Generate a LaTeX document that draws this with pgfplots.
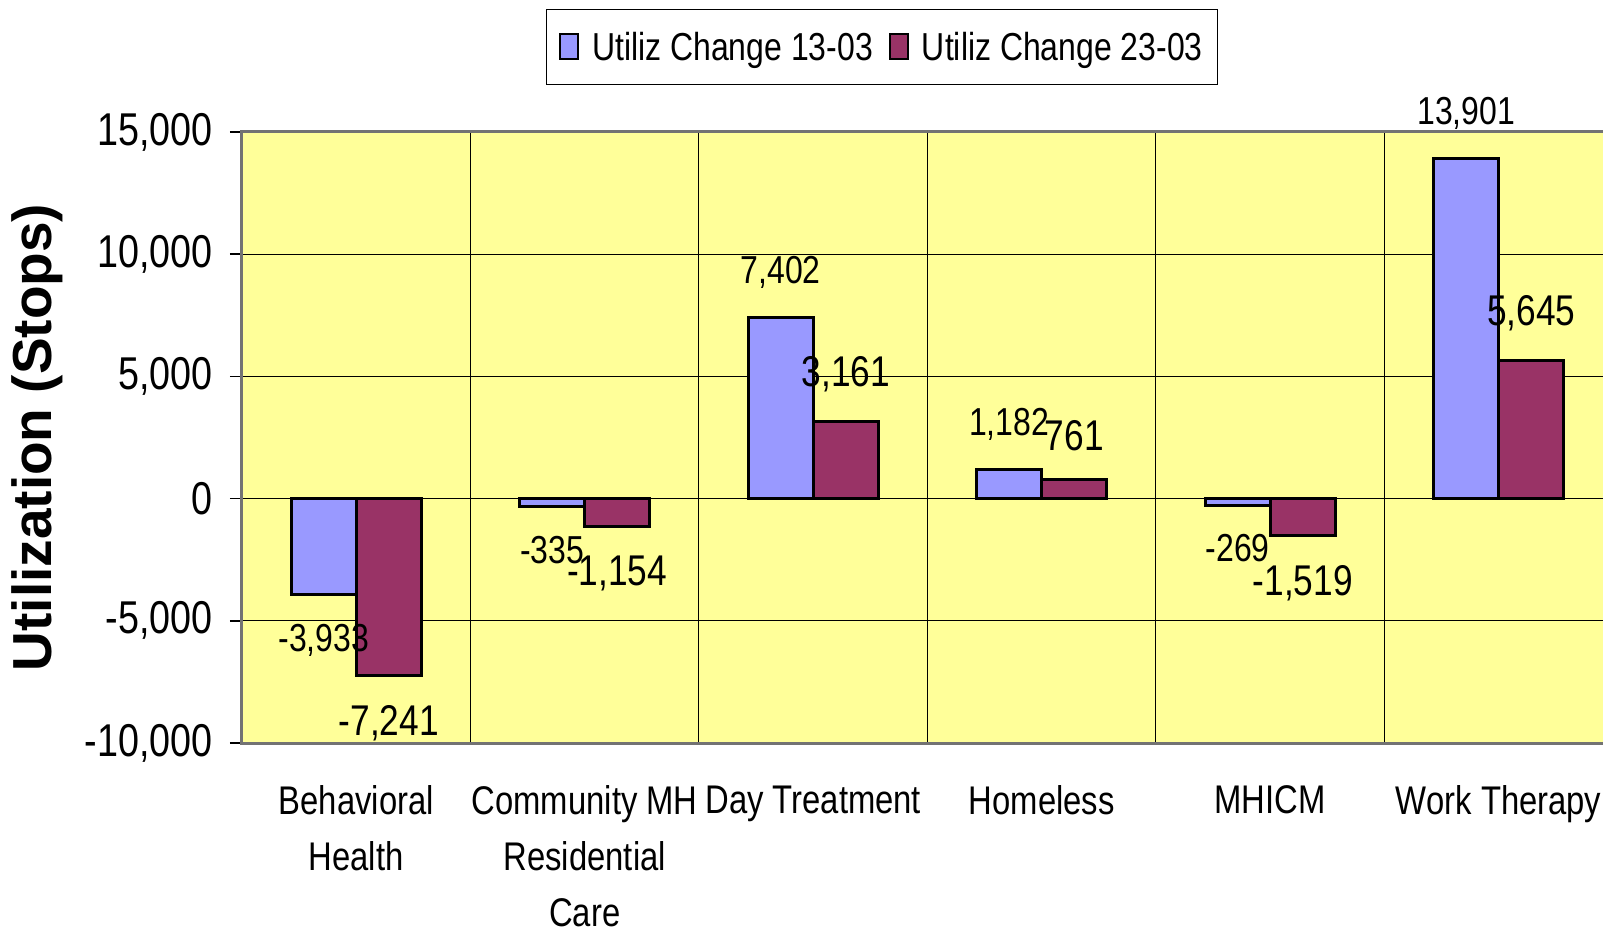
\documentclass[border=0pt]{standalone}
\usepackage{fontspec}
\setmainfont{Liberation Sans}[FakeStretch=0.82]
\newfontfamily\ylfont{Liberation Sans}
\usepackage{pgfplots}
\pgfplotsset{compat=1.18}
\definecolor{cblue}{RGB}{153,153,255}
\definecolor{cred}{RGB}{153,51,102}
\definecolor{cbg}{RGB}{255,255,153}
\begin{document}
\begin{tikzpicture}
\useasboundingbox (-242pt,-188pt) rectangle (1361pt,743pt);
\begin{axis}[
  at={(0pt,0pt)}, anchor=south west,
  scale only axis, width=1371pt, height=611pt,
  xmin=-0.5, xmax=5.5, ymin=-10000, ymax=15000,
  axis background/.style={fill=cbg},
  axis line style={draw=black!55, line width=3pt},
  ybar=0pt, bar width=65pt,
  xtick={0,1,2,3,4,5},
  xticklabels={{Behavioral\\Health},{Community MH\\Residential\\Care},{Day Treatment},{Homeless},{MHICM},{Work Therapy}},
  x tick style={draw=none},
  minor xtick={0.5,1.5,2.5,3.5,4.5},
  xminorgrids, minor x tick style={draw=none},
  minor grid style={black, line width=1pt},
  ytick={-10000,-5000,0,5000,10000,15000},
  ymajorgrids, major grid style={black, line width=1pt},
  y tick style={black, line width=1.5pt},
  tick align=outside, major tick length=12pt,
  scaled y ticks=false,
  /pgf/number format/fixed,
  /pgf/number format/precision=0,
  /pgf/number format/1000 sep={,},
  /pgf/number format/assume math mode=true,
  yticklabel style={font=\fontsize{46}{54}\selectfont, inner xsep=17pt},
  xticklabel style={font=\fontsize{40}{56}\selectfont, align=center, yshift=-27pt},
  ylabel={Utilization (Stops)},
  ylabel style={at={(axis description cs:-0.149,0.5)}, rotate=0, anchor=center, font=\ylfont\bfseries\fontsize{55}{60}\selectfont},
  legend columns=2,
  legend style={at={(axis description cs:0.4668,1.139)}, anchor=center,
    draw=black, line width=1pt, font=\fontsize{39}{46}\selectfont,
    inner xsep=13pt, inner ysep=21pt,
    /tikz/every odd column/.append style={column sep=11pt},
    /tikz/every even column/.append style={column sep=14pt}},
  legend image code/.code={\draw[#1, line width=2pt] (0pt,-12pt) rectangle (18pt,13pt);},
  nodes near coords={\pgfmathprintnumber{\pgfplotspointmeta}},
  nodes near coords align={vertical},
]
\addplot[fill=cblue, draw=black, line width=3pt,
  every node near coord/.append style={font=\fontsize{39}{46}\selectfont, inner ysep=28pt, black}]
  coordinates {(0,-3933) (1,-335) (2,7402) (3,1182) (4,-269) (5,13901)};
\addplot[fill=cred, draw=black, line width=3pt,
  every node near coord/.append style={font=\fontsize{43}{50}\selectfont, inner ysep=28pt, black}]
  coordinates {(0,-7241) (1,-1154) (2,3161) (3,761) (4,-1519) (5,5645)};
\legend{Utiliz Change 13-03, Utiliz Change 23-03}
\end{axis}
\end{tikzpicture}
\end{document}
